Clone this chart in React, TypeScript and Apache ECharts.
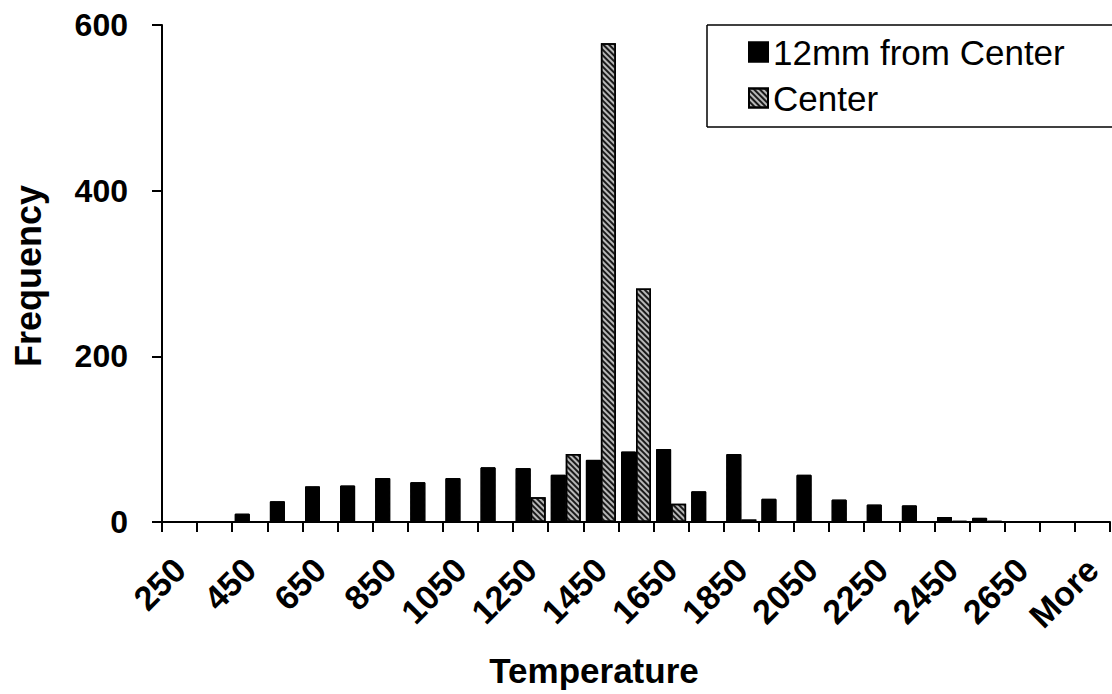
import React, { useEffect, useRef } from 'react';
import * as echarts from 'echarts';

const categories = ['250', '350', '450', '550', '650', '750', '850', '950', '1050', '1150', '1250', '1350', '1450', '1550', '1650', '1750', '1850', '1950', '2050', '2150', '2250', '2350', '2450', '2550', '2650', '2750', 'More'];
const seriesNames = ['12mm from Center', 'Center'];
const twelveMm = [0, 0, 10, 25, 43, 44, 53, 48, 53, 66, 65, 57, 75, 85, 88, 37, 82, 28, 57, 27, 21, 20, 6, 5, 0, 0, 0];
const centerVals = [0, 0, 0, 0, 0, 0, 0, 0, 0, 0, 30, 82, 578, 282, 22, 0, 3, 0, 0, 0, 0, 0, 1, 1, 0, 0, 0];
const yTicks = [0, 200, 400, 600];
const xTitle = 'Temperature';
const yTitle = 'Frequency';

export default function App() {
  const ref = useRef<HTMLDivElement>(null);
  useEffect(() => {
    if (!ref.current) return;
    const chart = echarts.init(ref.current, null, { renderer: 'svg' });
    const font = '"Liberation Sans", Arial, sans-serif';
    const hatch = {
      symbol: 'rect',
      symbolSize: 1,
      dashArrayX: [1, 0],
      dashArrayY: [1.4, 1.8],
      rotation: Math.PI / 4,
    };
    chart.setOption({
      animation: false,
      aria: { enabled: true, decal: { show: true } },
      grid: { left: 162, right: 2, top: 25, bottom: 172 },
      xAxis: {
        type: 'category',
        data: categories,
        axisLine: { lineStyle: { color: '#000', width: 2 } },
        axisTick: { show: true, interval: 0, length: 10, lineStyle: { color: '#000', width: 2 } },
        axisLabel: {
          interval: 1,
          rotate: 45,
          margin: 42,
          color: '#000',
          fontFamily: font,
          fontWeight: 'bold',
          fontSize: 34,
        },
      },
      yAxis: {
        type: 'value',
        min: yTicks[0],
        max: yTicks[yTicks.length - 1],
        interval: 200,
        axisLine: { show: true, lineStyle: { color: '#000', width: 2 } },
        axisTick: { show: true, length: 10, lineStyle: { color: '#000', width: 2 } },
        splitLine: { show: false },
        axisLabel: {
          margin: 34,
          color: '#000',
          fontFamily: font,
          fontWeight: 'bold',
          fontSize: 32,
        },
      },
      legend: {
        orient: 'vertical',
        left: 748,
        top: 34,
        padding: 0,
        itemGap: 10,
        itemWidth: 19,
        itemHeight: 19,
        icon: 'rect',
        textStyle: { fontSize: 35, lineHeight: 36, color: '#000', fontFamily: font },
        data: seriesNames,
      },
      series: [
        {
          name: seriesNames[0],
          type: 'bar',
          data: twelveMm,
          barWidth: 15,
          barGap: '0%',
          itemStyle: {
            color: '#000',
            borderColor: '#000',
            borderWidth: 1,
            decal: { ...hatch, color: '#000' },
          },
        },
        {
          name: seriesNames[1],
          type: 'bar',
          data: centerVals,
          barWidth: 15,
          barGap: '0%',
          itemStyle: {
            color: '#b8b8b8',
            borderColor: '#000',
            borderWidth: 1.5,
            decal: { ...hatch, color: '#1a1a1a' },
          },
        },
      ],
      graphic: [
        {
          type: 'line',
          z: 2,
          shape: { x1: 707, y1: 25, x2: 1112, y2: 25 },
          style: { stroke: '#000', lineWidth: 1.5 },
        },
        {
          type: 'line',
          z: 2,
          shape: { x1: 707, y1: 127, x2: 1112, y2: 127 },
          style: { stroke: '#000', lineWidth: 1.5 },
        },
        {
          type: 'line',
          z: 2,
          shape: { x1: 707, y1: 25, x2: 707, y2: 127 },
          style: { stroke: '#000', lineWidth: 1.5 },
        },
        {
          type: 'text',
          x: 594,
          y: 670,
          style: {
            text: xTitle,
            font: `bold 35px ${font}`,
            fill: '#000',
            textAlign: 'center',
            textVerticalAlign: 'middle',
          },
        },
        {
          type: 'text',
          x: 28,
          y: 276,
          rotation: Math.PI / 2,
          style: {
            text: yTitle,
            font: `bold 36px ${font}`,
            fill: '#000',
            textAlign: 'center',
            textVerticalAlign: 'middle',
          },
        },
      ],
    });
    return () => chart.dispose();
  }, []);
  return <div ref={ref} style={{ position: 'absolute', left: 0, top: 0, width: 1112, height: 694 }} />;
}
